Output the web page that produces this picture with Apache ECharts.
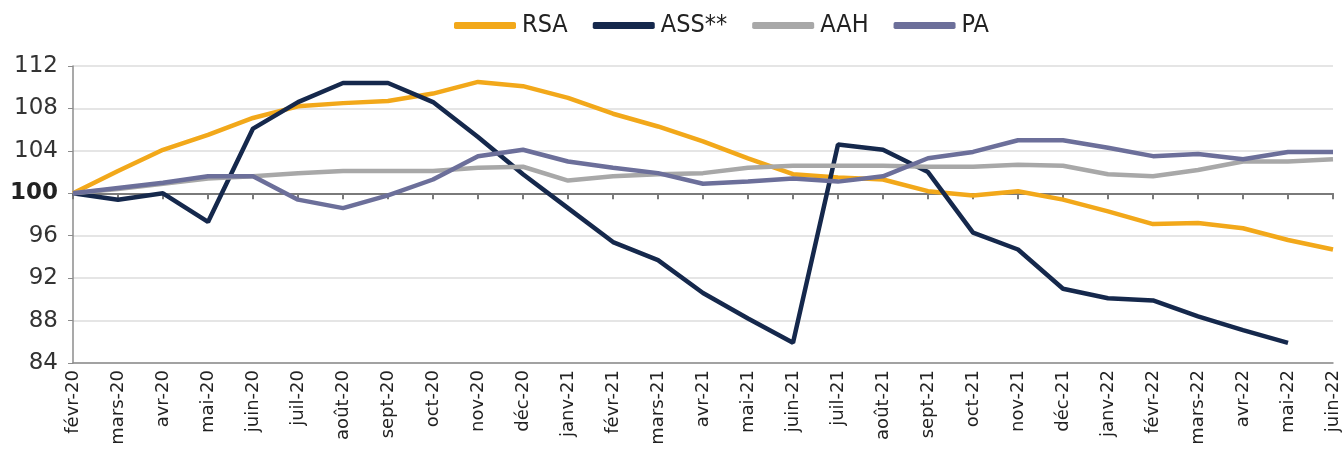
<!DOCTYPE html>
<html>
<head>
<meta charset="utf-8">
<script src="https://cdn.jsdelivr.net/npm/echarts@6/dist/echarts.min.js"></script>
<style>
html, body { margin: 0; padding: 0; background: #fff; }
#chart { width: 1344px; height: 473px; }
</style>
</head>
<body>
<div id="chart"></div>
<script>
const months = ['févr-20', 'mars-20', 'avr-20', 'mai-20', 'juin-20', 'juil-20', 'août-20', 'sept-20', 'oct-20', 'nov-20', 'déc-20',
    'janv-21', 'févr-21', 'mars-21', 'avr-21', 'mai-21', 'juin-21', 'juil-21', 'août-21', 'sept-21', 'oct-21', 'nov-21', 'déc-21',
    'janv-22', 'févr-22', 'mars-22', 'avr-22', 'mai-22', 'juin-22'];

const rsa = [100, 102.1, 104.1, 105.5, 107.1, 108.2, 108.5, 108.7, 109.4, 110.5, 110.1,
    109.0, 107.5, 106.3, 104.9, 103.3, 101.8, 101.5, 101.3, 100.2, 99.8, 100.2, 99.4,
    98.3, 97.1, 97.2, 96.7, 95.6, 94.7];
const ass = [100, 99.4, 100, 97.3, 106.1, 108.6, 110.4, 110.4, 108.6, 105.3, 101.8,
    98.6, 95.4, 93.7, 90.6, 88.2, 85.9, 104.6, 104.1, 102.0, 96.3, 94.7, 91.0,
    90.1, 89.9, 88.4, 87.1, 85.9, null];
const aah = [100, 100.4, 100.9, 101.4, 101.6, 101.9, 102.1, 102.1, 102.1, 102.4, 102.5,
    101.2, 101.6, 101.8, 101.9, 102.4, 102.6, 102.6, 102.6, 102.5, 102.5, 102.7, 102.6,
    101.8, 101.6, 102.2, 103.0, 103.0, 103.2];
const pa = [100, 100.5, 101.0, 101.6, 101.6, 99.4, 98.6, 99.8, 101.3, 103.5, 104.1,
    103.0, 102.4, 101.9, 100.9, 101.1, 101.4, 101.1, 101.6, 103.3, 103.9, 105.0, 105.0,
    104.3, 103.5, 103.7, 103.2, 103.9, 103.9];

const yTicks = { min: 84, max: 112, step: 4, base: 100 };
const seriesNames = ['RSA', 'ASS**', 'AAH', 'PA'];
const colors = ['#F2A81A', '#15284C', '#A8A8A8', '#6C6F9A'];

const gridBox = { left: 73, right: 11, top: 66, bottom: 110 };
const chartHeight = 473;
const plotHeight = chartHeight - gridBox.top - gridBox.bottom;
// ligne de base (100) mesurée depuis le haut de la grille
const baseOffset = (yTicks.max - yTicks.base) / (yTicks.max - yTicks.min) * plotHeight;

const chart = echarts.init(document.getElementById('chart'));

const seriesData = [rsa, ass, aah, pa].map((vals, i) => {
    return {
        name: seriesNames[i],
        type: 'line',
        data: vals,
        symbol: 'none',
        connectNulls: false,
        lineStyle: { color: colors[i], width: 4.5 },
        itemStyle: { color: colors[i] }
    };
});

const option = {
    animation: false,
    color: colors,
    legend: {
        data: seriesNames,
        top: 8,
        left: 449,
        icon: 'roundRect',
        itemWidth: 62,
        itemHeight: 7,
        itemGap: 25,
        textStyle: {
            fontFamily: '"DejaVu Sans Condensed", "Liberation Sans Narrow", sans-serif',
            fontSize: 25,
            color: '#222',
            padding: [0, 0, 0, 1]
        }
    },
    grid: gridBox,
    xAxis: [
        {
            type: 'category',
            data: months,
            boundaryGap: false,
            position: 'bottom',
            axisLine: { lineStyle: { color: '#8c8c8c', width: 1.5 } },
            axisTick: { show: false },
            axisLabel: {
                rotate: 90,
                interval: 0,
                margin: 7,
                fontFamily: '"DejaVu Sans", sans-serif',
                fontSize: 18,
                color: '#222'
            }
        },
        {
            type: 'category',
            data: months,
            boundaryGap: false,
            position: 'top',
            offset: -baseOffset,
            axisLine: { show: true, lineStyle: { color: '#7a7a7a', width: 2 } },
            axisTick: { show: true, inside: true, length: 6, interval: 0, lineStyle: { color: '#7a7a7a', width: 2 } },
            axisLabel: { show: false },
            splitLine: { show: false }
        }
    ],
    yAxis: {
        type: 'value',
        min: yTicks.min,
        max: yTicks.max,
        interval: yTicks.step,
        axisLine: { show: true, lineStyle: { color: '#8c8c8c', width: 1.5 } },
        axisTick: { show: true, length: 5, lineStyle: { color: '#8c8c8c' } },
        splitLine: { lineStyle: { color: '#dcdcdc', width: 1.5 } },
        axisLabel: {
            margin: 15,
            fontFamily: '"DejaVu Sans", sans-serif',
            fontSize: 23,
            color: '#333',
            formatter: v => v === yTicks.base ? '{b|' + v + '}' : String(v),
            rich: {
                b: { fontFamily: '"DejaVu Sans", sans-serif', fontSize: 23, fontWeight: 'bold', color: '#222' }
            }
        }
    },
    series: seriesData
};

chart.setOption(option);
window.addEventListener('resize', () => {
    chart.resize();
});
</script>
</body>
</html>
